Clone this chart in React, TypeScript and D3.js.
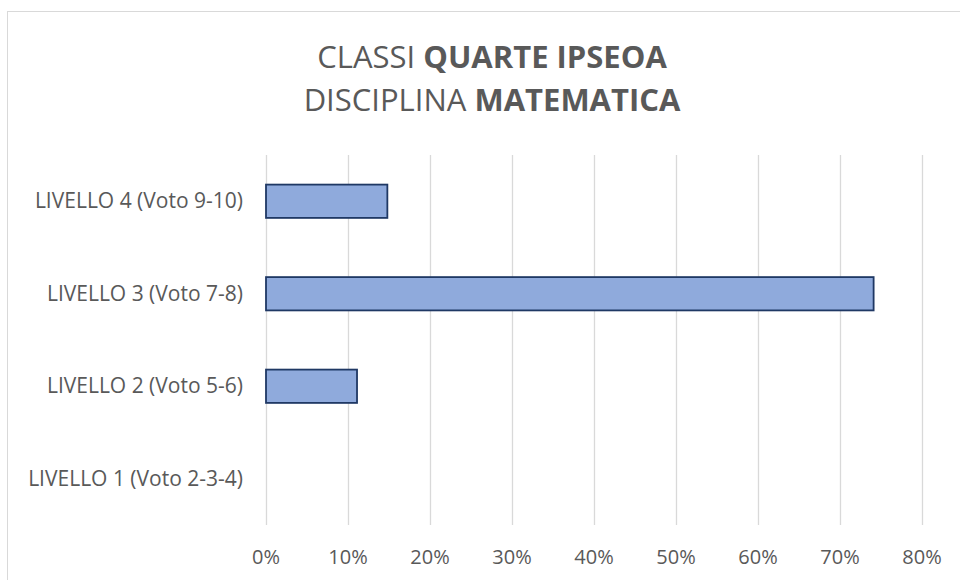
import React from "react";
import * as d3 from "d3";

const categories = [
  "LIVELLO 4 (Voto 9-10)",
  "LIVELLO 3 (Voto 7-8)",
  "LIVELLO 2 (Voto 5-6)",
  "LIVELLO 1 (Voto 2-3-4)",
];
const values = [0.148, 0.741, 0.111, 0];
const ticks = [0, 0.1, 0.2, 0.3, 0.4, 0.5, 0.6, 0.7, 0.8];
const titleLine1 = ["CLASSI ", "QUARTE IPSEOA"];
const titleLine2 = ["DISCIPLINA ", "MATEMATICA"];

const W = 960;
const H = 580;
const FONT = "'Open Sans', 'Noto Sans', sans-serif";
const TEXT = "#595959";

export default function App() {
  const x = d3.scaleLinear().domain([0, 0.8]).range([266, 922]);
  const y = d3
    .scaleBand<string>()
    .domain(categories)
    .range([155, 525])
    .paddingInner(0.64)
    .paddingOuter(0.32);
  const fmt = d3.format(".0%");

  return (
    <svg
      width={W}
      height={H}
      style={{ position: "absolute", left: 0, top: 0, background: "#fff" }}
      fontFamily={FONT}
    >
      <rect x={7.5} y={11.5} width={970} height={600} fill="#fff" stroke="#d9d9d9" strokeWidth={1} />
      <text x={492} y={68} textAnchor="middle" fontSize={31} fill={TEXT}>
        <tspan>{titleLine1[0]}</tspan>
        <tspan fontWeight="bold">{titleLine1[1]}</tspan>
      </text>
      <text x={492} y={111} textAnchor="middle" fontSize={31} fill={TEXT}>
        <tspan>{titleLine2[0]}</tspan>
        <tspan fontWeight="bold">{titleLine2[1]}</tspan>
      </text>
      {ticks.map((t) => (
        <g key={t}>
          <line
            x1={Math.round(x(t)) + 0.5}
            x2={Math.round(x(t)) + 0.5}
            y1={155}
            y2={525}
            stroke="#d9d9d9"
            strokeWidth={1.3}
          />
          <text x={x(t)} y={564} textAnchor="middle" fontSize={20} fill={TEXT}>
            {fmt(t)}
          </text>
        </g>
      ))}
      {categories.map((c, i) => (
        <g key={c}>
          {values[i] > 0 && (
            <rect
              x={x(0)}
              y={y(c)}
              width={x(values[i]) - x(0)}
              height={y.bandwidth()}
              fill="#8faadc"
              stroke="#1f3864"
              strokeWidth={1.8}
            />
          )}
          <text
            x={243}
            y={(y(c) as number) + y.bandwidth() / 2 + 7}
            textAnchor="end"
            fontSize={21}
            fill={TEXT}
          >
            {c}
          </text>
        </g>
      ))}
    </svg>
  );
}
